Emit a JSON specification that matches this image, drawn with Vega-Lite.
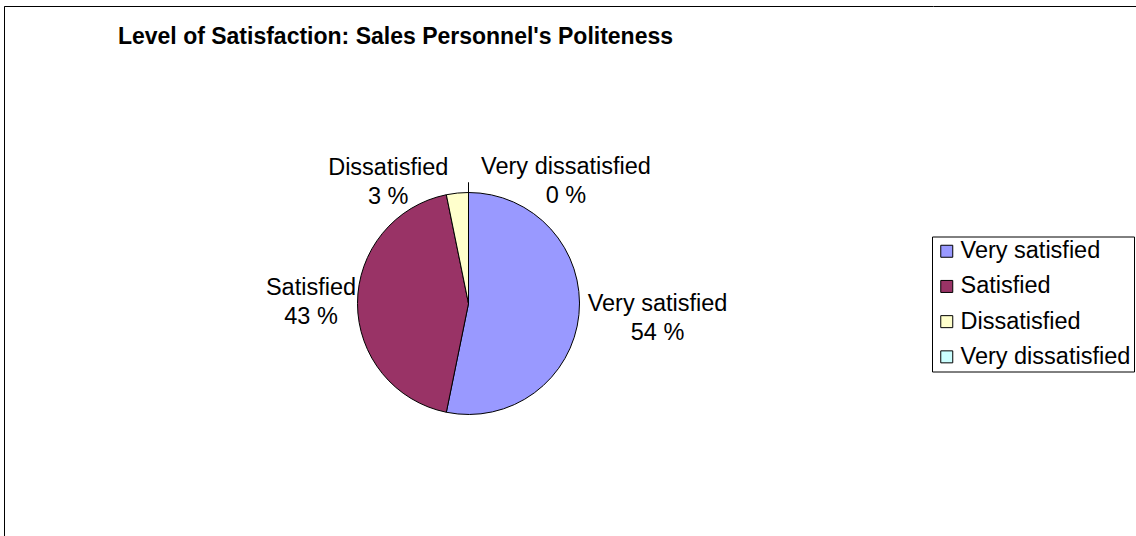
{
  "$schema": "https://vega.github.io/schema/vega-lite/v6.json",
  "autosize": {"type": "pad"},
  "padding": {"left": 3, "top": 5, "right": 0, "bottom": 0},
  "background": "white",
  "spacing": 0,
  "bounds": "flush",
  "title": {
    "text": "Level of Satisfaction: Sales Personnel's Politeness",
    "anchor": "middle",
    "dx": -178,
    "dy": 65,
    "baseline": "alphabetic",
    "font": "Liberation Sans",
    "fontSize": 23,
    "fontWeight": "bold",
    "color": "black"
  },
  "config": {
    "view": {"stroke": null},
    "font": "Liberation Sans"
  },
  "data": {
    "values": [
      {"category": "Very satisfied", "rank": 1, "share": 53.2, "label": "Very satisfied\n54 %"},
      {"category": "Satisfied", "rank": 2, "share": 43.6, "label": "Satisfied\n43 %"},
      {"category": "Dissatisfied", "rank": 3, "share": 3.2, "label": "Dissatisfied\n3 %"},
      {"category": "Very dissatisfied", "rank": 4, "share": 0, "label": "Very dissatisfied\n0 %"}
    ]
  },
  "hconcat": [
    {
      "width": 929,
      "height": 595,
      "view": {"stroke": "black", "strokeWidth": 1, "strokeDash": [929, 1524, 595]},
      "encoding": {
        "theta": {"field": "share", "type": "quantitative", "stack": true},
        "order": {"field": "rank", "type": "quantitative"}
      },
      "layer": [
        {
          "mark": {"type": "arc", "outerRadius": 111, "stroke": "black", "strokeWidth": 1},
          "encoding": {
            "color": {
              "field": "category",
              "type": "nominal",
              "sort": ["Very satisfied", "Satisfied", "Dissatisfied", "Very dissatisfied"],
              "scale": {
                "domain": ["Very satisfied", "Satisfied", "Dissatisfied", "Very dissatisfied"],
                "range": ["#9999FF", "#993366", "#FFFFCC", "#CCFFFF"]
              },
              "legend": {
                "orient": "none",
                "legendX": 928,
                "legendY": 230.5,
                "title": null,
                "strokeColor": "black",
                "fillColor": "white",
                "padding": 3,
                "cornerRadius": 0,
                "symbolType": "square",
                "symbolSize": 144,
                "symbolStrokeColor": "black",
                "symbolStrokeWidth": 1,
                "symbolOpacity": 1,
                "labelFont": "Liberation Sans",
                "labelFontSize": 23.5,
                "labelColor": "black",
                "labelLimit": 400,
                "labelOffset": 2,
                "rowPadding": 10.2
              }
            }
          }
        },
        {
          "mark": {"type": "arc", "innerRadius": 111, "outerRadius": 121, "fillOpacity": 0, "stroke": "black", "strokeWidth": 1},
          "encoding": {
            "detail": {"field": "category", "type": "nominal"},
            "strokeOpacity": {"condition": {"test": "datum.category === 'Very dissatisfied'", "value": 1}, "value": 0}
          }
        },
        {
          "mark": {"type": "text", "radius": 190, "dy": -19, "font": "Liberation Sans", "fontSize": 23.5, "lineBreak": "\n", "lineHeight": 29, "align": "center", "baseline": "middle"},
          "encoding": {
            "detail": {"field": "category", "type": "nominal"},
            "text": {"field": "label", "type": "nominal"},
            "color": {"value": "black"},
            "opacity": {"condition": {"test": "datum.category === 'Very satisfied'", "value": 1}, "value": 0}
          }
        },
        {
          "mark": {"type": "text", "radius": 157.5, "dy": -15.5, "font": "Liberation Sans", "fontSize": 23.5, "lineBreak": "\n", "lineHeight": 29, "align": "center", "baseline": "middle"},
          "encoding": {
            "detail": {"field": "category", "type": "nominal"},
            "text": {"field": "label", "type": "nominal"},
            "color": {"value": "black"},
            "opacity": {"condition": {"test": "datum.category === 'Satisfied'", "value": 1}, "value": 0}
          }
        },
        {
          "mark": {"type": "text", "radius": 122, "dx": -68, "dy": -14.5, "font": "Liberation Sans", "fontSize": 23.5, "lineBreak": "\n", "lineHeight": 29, "align": "center", "baseline": "middle"},
          "encoding": {
            "detail": {"field": "category", "type": "nominal"},
            "text": {"field": "label", "type": "nominal"},
            "color": {"value": "black"},
            "opacity": {"condition": {"test": "datum.category === 'Dissatisfied'", "value": 1}, "value": 0}
          }
        },
        {
          "mark": {"type": "text", "radius": 122, "dx": 97.5, "dy": -14.5, "font": "Liberation Sans", "fontSize": 23.5, "lineBreak": "\n", "lineHeight": 29, "align": "center", "baseline": "middle"},
          "encoding": {
            "detail": {"field": "category", "type": "nominal"},
            "text": {"field": "label", "type": "nominal"},
            "color": {"value": "black"},
            "opacity": {"condition": {"test": "datum.category === 'Very dissatisfied'", "value": 1}, "value": 0}
          }
        }
      ]
    },
    {
      "width": 210,
      "height": 595,
      "view": {"stroke": "black", "strokeWidth": 1, "strokeDash": [210, 3000]},
      "mark": {"type": "text"},
      "encoding": {"text": {"value": ""}}
    }
  ]
}
